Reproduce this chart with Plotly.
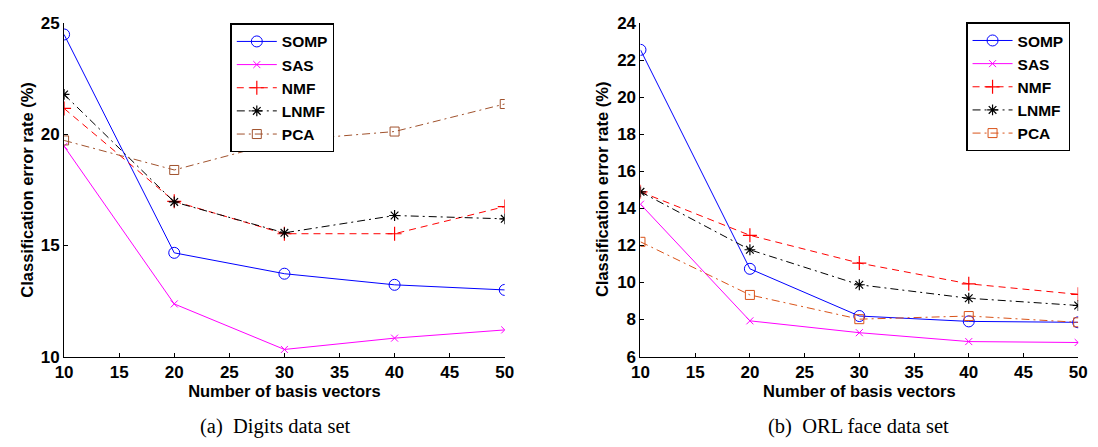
import plotly.graph_objects as go

basis = [10, 20, 30, 40, 50]
methods = ["SOMP", "SAS", "NMF", "LNMF", "PCA"]

digits_somp = [24.5, 14.67, 13.73, 13.23, 13.0]
digits_sas = [19.47, 12.37, 10.32, 10.83, 11.2]
digits_nmf = [21.17, 16.99, 15.53, 15.53, 16.75]
digits_lnmf = [21.8, 16.96, 15.57, 16.35, 16.2]
digits_pca = [19.73, 18.4, 19.72, 20.13, 21.37]

orl_somp = [22.57, 10.74, 8.19, 7.9, 7.85]
orl_sas = [14.23, 7.93, 7.29, 6.81, 6.76]
orl_nmf = [14.9, 12.55, 11.05, 9.93, 9.36]
orl_lnmf = [14.9, 11.77, 9.88, 9.15, 8.76]
orl_pca = [12.2, 9.33, 8.02, 8.19, 7.85]

captions = ["(a)  Digits data set", "(b)  ORL face data set"]
x_title = "Number of basis vectors"
y_title = "Classification error rate (%)"

W, H = 1098, 447
FONT = "Liberation Sans"
SERIF = "Liberation Serif"

fig = go.Figure()

def styles(pca_color):
    return {
        "SOMP": dict(line=dict(color="#0000ff", width=1, dash="solid"),
                     marker=dict(symbol="circle-open", size=11, color="#0000ff", line=dict(width=1))),
        "SAS": dict(line=dict(color="#ff00ff", width=1, dash="solid"),
                    marker=dict(symbol="x-thin-open", size=7, color="#ff00ff", line=dict(width=1, color="#ff00ff"))),
        "NMF": dict(line=dict(color="#ff0000", width=1, dash="7px,5px"),
                    marker=dict(symbol="cross-thin-open", size=10, color="#ff0000", line=dict(width=1.2, color="#ff0000"))),
        "LNMF": dict(line=dict(color="#000000", width=1, dash="8px,4px,2px,4px"),
                     marker=dict(symbol="asterisk-open", size=9, color="#000000", line=dict(width=1.2, color="#000000"))),
        "PCA": dict(line=dict(color=pca_color, width=1, dash="8px,4px,2px,4px"),
                    marker=dict(symbol="square-open", size=9, color=pca_color, line=dict(width=1))),
    }

panels = [
    ([digits_somp, digits_sas, digits_nmf, digits_lnmf, digits_pca], "x", "y", "legend", "#a0522d"),
    ([orl_somp, orl_sas, orl_nmf, orl_lnmf, orl_pca], "x2", "y2", "legend2", "#d95319"),
]

for series, xa, ya, leg, pcacol in panels:
    st = styles(pcacol)
    for name, vals in zip(methods, series):
        fig.add_trace(go.Scatter(x=basis, y=vals, name="<b>" + name + "</b>", mode="lines+markers",
                                 xaxis=xa, yaxis=ya, legend=leg, **st[name]))

ydom = [1 - 363 / H, 1 - 15 / H]
tick_font = dict(family=FONT, size=17, color="black", weight="bold")
title_font = dict(family=FONT, size=16.5, color="black", weight="bold")
axis_common = dict(showline=True, linecolor="black", linewidth=1, ticks="inside",
                   ticklen=4, tickcolor="black", showgrid=False, zeroline=False,
                   tickfont=tick_font, mirror=False)

legend_common = dict(xanchor="left", yanchor="top",
                     bgcolor="white", bordercolor="black", borderwidth=1.5,
                     font=dict(family=FONT, size=15.5, color="black"),
                     itemwidth=40, tracegroupgap=0)

fig.update_layout(
    width=W, height=H, margin=dict(l=0, r=0, t=0, b=0),
    plot_bgcolor="white", paper_bgcolor="white",
    font=dict(family=FONT, color="black"),
    xaxis=dict(domain=[56 / W, 504 / W], range=[10, 50], dtick=5, anchor="y",
               title=dict(text=x_title, font=title_font, standoff=2), **axis_common),
    yaxis=dict(domain=ydom, range=[10, 25], dtick=5, anchor="x", **axis_common),
    xaxis2=dict(domain=[642 / W, 1087 / W], range=[10, 50], dtick=5, anchor="y2",
                title=dict(text=x_title, font=title_font, standoff=2), **axis_common),
    yaxis2=dict(domain=ydom, range=[6, 24], dtick=2, anchor="x2", **axis_common),
    legend=dict(x=225 / W, y=1 - 15 / H, **legend_common),
    legend2=dict(x=973 / W, y=1 - 14 / H, **legend_common),
    showlegend=True,
)

ymid = 1 - 189 / H
for tx in [18, 603]:
    fig.add_annotation(text=y_title, x=tx / W, y=ymid, xref="paper", yref="paper",
                       textangle=-90, showarrow=False, font=title_font,
                       xanchor="center", yanchor="middle")

for cap, cx in zip(captions, [271, 864]):
    fig.add_annotation(text=cap, x=cx / W, y=1 - 436 / H, xref="paper", yref="paper",
                       showarrow=False, font=dict(family=SERIF, size=20.5, color="black"),
                       xanchor="center", yanchor="middle")

fig.write_html("out.html")
